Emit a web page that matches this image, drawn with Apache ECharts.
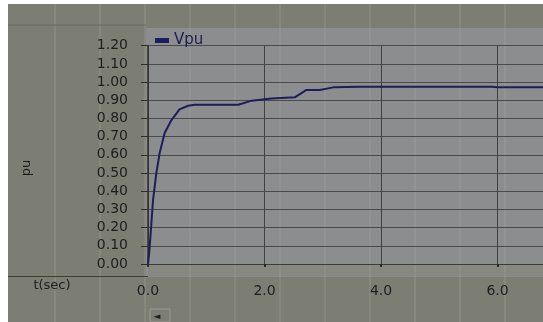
<!DOCTYPE html>
<html>
<head>
<meta charset="utf-8">
<script src="https://cdn.jsdelivr.net/npm/echarts@6/dist/echarts.min.js"></script>
<style>html,body{margin:0;padding:0;background:#fff;}#c{width:543px;height:322px;}</style>
</head>
<body>
<div id="c"></div>
<script>
// Data
var seriesName = 'Vpu';
var timeSec = [0, 0.02, 0.046, 0.086, 0.143, 0.2, 0.286, 0.4, 0.54, 0.69, 0.8, 1.0, 1.3, 1.55, 1.78, 2.12, 2.52, 2.72, 2.95, 3.18, 3.64, 4.0, 5.0, 5.9, 6.0, 6.78];
var vpu = [0, 0.06, 0.17, 0.35, 0.50, 0.61, 0.72, 0.79, 0.85, 0.87, 0.875, 0.876, 0.875, 0.875, 0.898, 0.91, 0.916, 0.957, 0.957, 0.971, 0.975, 0.975, 0.974, 0.974, 0.972, 0.972];
var yTicks = [0, 0.1, 0.2, 0.3, 0.4, 0.5, 0.6, 0.7, 0.8, 0.9, 1.0, 1.1, 1.2];
var xTicks = [0, 2, 4, 6];

var points = timeSec.map(function (t, i) { return [t, vpu[i]]; });

var chart = echarts.init(document.getElementById('c'));

var bgLines = [];
[55, 100, 145, 190, 235, 280, 325, 370, 415, 460, 505].forEach(function (x) {
  bgLines.push({ type: 'line', z: -5, silent: true, shape: { x1: x, y1: 4, x2: x, y2: 322 }, style: { stroke: '#a4a59c', lineWidth: 1, opacity: 0.55 } });
});

chart.setOption({
  animation: false,
  backgroundColor: '#7c7d73',
  grid: { left: 148, top: 45.7, right: 0, bottom: 58, containLabel: false },
  legend: {
    left: 150, top: 28, itemWidth: 14, itemHeight: 5, itemGap: 6,
    icon: 'rect',
    textStyle: { color: '#1c1c50', fontSize: 15, fontFamily: 'DejaVu Sans' },
    data: [seriesName]
  },
  xAxis: {
    type: 'value', min: 0, max: 6.78, interval: 2,
    offset: 13,
    axisLine: { show: true, lineStyle: { color: '#3d3e3a', width: 1 } },
    axisTick: { show: true, length: 3, lineStyle: { color: '#2a2a2a', width: 2 } },
    axisLabel: { color: '#1e1e1e', fontSize: 14, fontFamily: 'DejaVu Sans', margin: 7, showMaxLabel: false,
      formatter: function (v) { return xTicks.indexOf(v) >= 0 ? v.toFixed(1) : ''; } },
    splitLine: { show: true, lineStyle: { color: '#404140', width: 1 } }
  },
  yAxis: {
    type: 'value', min: 0, max: 1.2, interval: 0.1,
    axisLine: { show: true, lineStyle: { color: '#2e2f2c', width: 1.5 } },
    axisTick: { show: true, length: 7, lineStyle: { color: '#2e2f2c' } },
    axisLabel: { color: '#1e1e1e', fontSize: 14, fontFamily: 'DejaVu Sans', margin: 20,
      formatter: function (v) {
        var hit = yTicks.filter(function (t) { return Math.abs(t - v) < 1e-6; });
        return hit.length ? hit[0].toFixed(2) : '';
      } },
    splitLine: { show: true, lineStyle: { color: '#4a4b49', width: 1 } }
  },
  graphic: [
    { type: 'rect', z: -10, silent: true, shape: { x: 146, y: 28, width: 397, height: 249 }, style: { fill: '#8c8d8f' } },
    { type: 'rect', z: -9, silent: true, shape: { x: 148, y: 264.5, width: 395, height: 12 }, style: { fill: '#878882' } },
    { type: 'line', z: -4, silent: true, shape: { x1: 8, y1: 25, x2: 146, y2: 25 }, style: { stroke: '#6a6b62', lineWidth: 1 } },
    { type: 'line', z: -4, silent: true, shape: { x1: 8, y1: 276.5, x2: 148, y2: 276.5 }, style: { stroke: '#3d3e3a', lineWidth: 1 } },
    { type: 'text', z: 5, silent: true, x: 27, y: 168, rotation: Math.PI / 2,
      style: { text: 'pu', fill: '#1e1e1e', fontSize: 13, fontFamily: 'DejaVu Sans', align: 'center', verticalAlign: 'middle' } },
    { type: 'text', z: 5, silent: true, x: 52, y: 286,
      style: { text: 't(sec)', fill: '#1e1e1e', fontSize: 13, fontFamily: 'DejaVu Sans', align: 'center', verticalAlign: 'middle' } },
    { type: 'rect', z: 4, silent: true, shape: { x: 150, y: 309, width: 20, height: 13 }, style: { fill: 'none', stroke: '#9a9b93', lineWidth: 1 } },
    { type: 'text', z: 5, silent: true, x: 157, y: 317,
      style: { text: '◄', fill: '#1e1e1e', fontSize: 9, fontFamily: 'DejaVu Sans', align: 'center', verticalAlign: 'middle' } },
    { type: 'rect', z: 10, silent: true, shape: { x: 0, y: 0, width: 8, height: 322 }, style: { fill: '#ffffff' } },
    { type: 'rect', z: 10, silent: true, shape: { x: 0, y: 0, width: 543, height: 4 }, style: { fill: '#ffffff' } }
  ].concat(bgLines),
  series: [{
    name: seriesName,
    type: 'line',
    data: points,
    showSymbol: false,
    smooth: false,
    color: '#1d1d5c',
    lineStyle: { color: '#1d1d5c', width: 2 }
  }]
});
</script>
</body>
</html>
